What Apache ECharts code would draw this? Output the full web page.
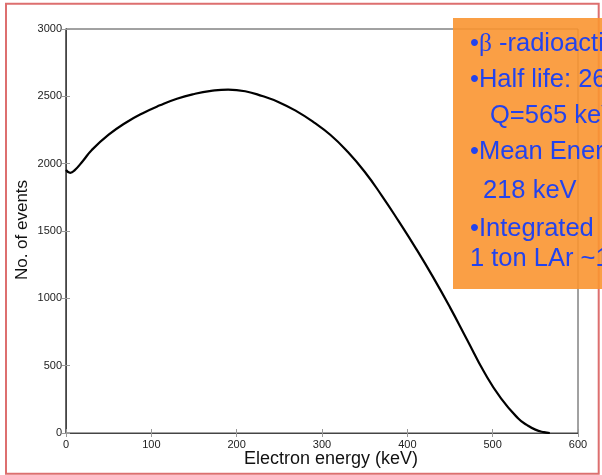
<!DOCTYPE html>
<html>
<head>
<meta charset="utf-8">
<script src="https://cdn.jsdelivr.net/npm/echarts@6/dist/echarts.min.js"></script>
<style>
  html, body { margin: 0; padding: 0; background: #fff; }
  #chart { width: 602px; height: 475px; }
</style>
</head>
<body>
<div id="chart"></div>
<script>
// Ar-39 beta spectrum: electron energy (keV) vs. number of events
var energies = [0, 5, 10, 20, 30, 50, 70, 90, 110, 130, 150, 170, 190, 210, 230, 250, 270, 290, 310, 330, 350, 370, 390, 410, 430, 450, 470, 490, 510, 530, 540, 550, 560, 567];
var counts   = [1953, 1932, 1950, 2022, 2100, 2215, 2304, 2375, 2433, 2482, 2517, 2540, 2550, 2538, 2502, 2455, 2390, 2309, 2213, 2089, 1940, 1763, 1571, 1371, 1159, 933, 693, 453, 255, 108, 60, 25, 6, 0];

var xTicks = { min: 0, max: 600, interval: 100 };
var yTicks = { min: 0, max: 3000, interval: 500 };

var xTitle = 'Electron energy (keV)';
var yTitle = 'No. of events';

// Side panel text (rich-text markup: {g|...} is the Greek glyph in a serif face)
var infoLines = [
  '\u2022{g|\u03b2} -radioactive',
  '\u2022Half life: 269 y',
  'Q=565 keV',
  '\u2022Mean Energy:',
  '218 keV',
  '\u2022Integrated rate',
  '1 ton LAr ~1 kHz'
];
var infoX = [470, 470, 490, 470, 483, 470, 470];
var infoY = [44, 80, 116, 152, 191, 229, 259];

var FONT = '"Liberation Sans", Arial, Helvetica, sans-serif';
var SERIF = '"Liberation Serif", "Times New Roman", serif';

var chart = echarts.init(document.getElementById('chart'), null, { renderer: 'canvas' });

var seriesData = energies.map(function (e, i) { return [e, counts[i]]; });

var tickStyle = { show: true, inside: true, length: 4, lineStyle: { color: '#999', width: 1 } };

var graphics = [
  {
    type: 'rect', z: 1, silent: true,
    shape: { x: 6, y: 3.7, width: 592.7, height: 470 },
    style: { fill: 'none', stroke: '#DD6F6F', lineWidth: 2 }
  },
  {
    type: 'text', z: 5, silent: true,
    x: 331, y: 459.5,
    style: { text: xTitle, font: '18px ' + FONT, fill: '#111', align: 'center', verticalAlign: 'middle' }
  },
  {
    type: 'text', z: 5, silent: true,
    x: 22.5, y: 230, rotation: Math.PI / 2,
    style: { text: yTitle, font: '17px ' + FONT, fill: '#111', align: 'center', verticalAlign: 'middle' }
  },
  {
    type: 'rect', z: 10, silent: true,
    shape: { x: 453, y: 18, width: 160, height: 271 },
    style: { fill: 'rgba(249,149,49,0.9)' }
  }
];
infoLines.forEach(function (t, i) {
  graphics.push({
    type: 'text', z: 11, silent: true,
    x: infoX[i], y: infoY[i],
    style: {
      text: t,
      fontSize: 25.5, fontFamily: FONT, fill: '#2243EE',
      align: 'left', verticalAlign: 'middle',
      rich: { g: { fontSize: 25.5, fontFamily: SERIF, fill: '#2243EE' } }
    }
  });
});

chart.setOption({
  animation: false,
  backgroundColor: '#fff',
  grid: {
    left: 66, right: 24, top: 29, bottom: 42,
    show: true, borderColor: '#444', borderWidth: 1, backgroundColor: 'transparent'
  },
  xAxis: [
    {
      type: 'value', min: xTicks.min, max: xTicks.max, interval: xTicks.interval,
      position: 'bottom',
      axisLine: { show: true, onZero: false, lineStyle: { color: '#444', width: 1 } },
      axisTick: tickStyle,
      axisLabel: { margin: 6, color: '#222', fontSize: 11, fontFamily: FONT, formatter: function (v) { return String(v); } },
      splitLine: { show: false }
    },
    {
      type: 'value', min: xTicks.min, max: xTicks.max, interval: xTicks.interval,
      position: 'top',
      axisLine: { show: true, lineStyle: { color: '#444', width: 1 } },
      axisTick: tickStyle,
      axisLabel: { show: false },
      splitLine: { show: false }
    }
  ],
  yAxis: [
    {
      type: 'value', min: yTicks.min, max: yTicks.max, interval: yTicks.interval,
      position: 'left',
      axisLine: { show: true, onZero: false, lineStyle: { color: '#555', width: 1.5 } },
      axisTick: tickStyle,
      axisLabel: { margin: 4, color: '#222', fontSize: 11, fontFamily: FONT, formatter: function (v) { return String(v); } },
      splitLine: { show: false }
    },
    {
      type: 'value', min: yTicks.min, max: yTicks.max, interval: yTicks.interval,
      position: 'right',
      axisLine: { show: true, lineStyle: { color: '#444', width: 1 } },
      axisTick: tickStyle,
      axisLabel: { show: false },
      splitLine: { show: false }
    }
  ],
  series: [
    {
      type: 'line',
      xAxisIndex: 0, yAxisIndex: 0,
      data: seriesData,
      showSymbol: false,
      smooth: 0.5,
      lineStyle: { color: '#000', width: 2.2 },
      z: 3
    }
  ],
  graphic: graphics
});
</script>
</body>
</html>
